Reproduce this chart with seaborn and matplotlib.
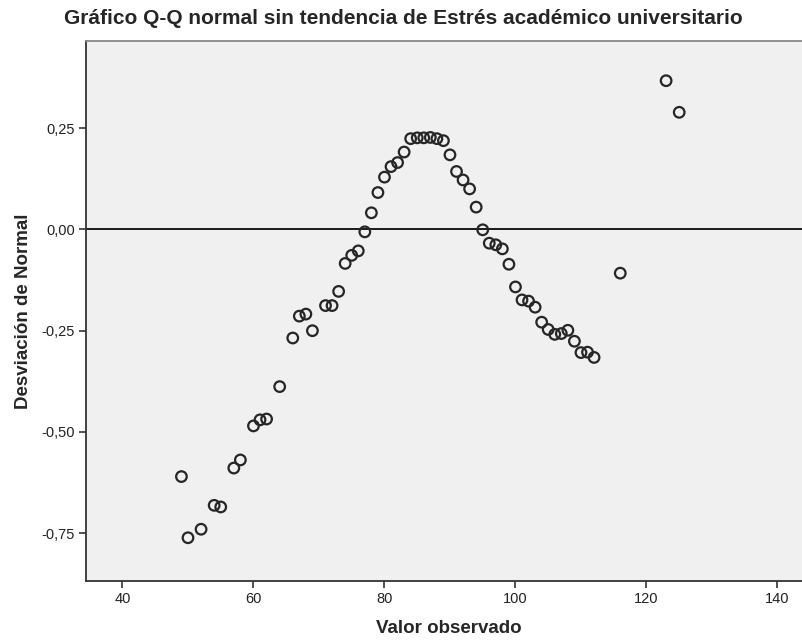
import matplotlib
matplotlib.use("Agg")
import matplotlib.pyplot as plt
import seaborn as sns
import pandas as pd

valor_observado = [49, 50, 52, 54, 55, 57, 58, 60, 61, 62, 64, 66, 67, 68, 69, 71, 72, 73,
                   74, 75, 76, 77, 78, 79, 80, 81, 82, 83, 84, 85, 86, 87, 88, 89, 90, 91,
                   92, 93, 94, 95, 96, 97, 98, 99, 100, 101, 102, 103, 104, 105, 106, 107,
                   108, 109, 110, 111, 112, 116, 123, 125]
desviacion = [-0.610, -0.761, -0.740, -0.681, -0.685, -0.589, -0.569, -0.485, -0.470, -0.468,
              -0.388, -0.268, -0.214, -0.209, -0.250, -0.188, -0.188, -0.153,
              -0.084, -0.064, -0.053, -0.006, 0.041, 0.091, 0.129, 0.155, 0.165, 0.191,
              0.224, 0.226, 0.226, 0.227, 0.224, 0.219, 0.184, 0.143, 0.122, 0.100, 0.055,
              -0.001, -0.034, -0.038, -0.048, -0.086, -0.142, -0.174, -0.177, -0.192,
              -0.229, -0.247, -0.259, -0.257, -0.249, -0.276, -0.304, -0.303, -0.316,
              -0.108, 0.367, 0.289]
x_ticks = [40, 60, 80, 100, 120, 140]
y_ticks = [-0.75, -0.50, -0.25, 0.00, 0.25]
y_tick_labels = ["-0,75", "-0,50", "-0,25", "0,00", "0,25"]

df = pd.DataFrame({"Valor observado": valor_observado, "Desviación de Normal": desviacion})

sns.set_style("white")
plt.rcParams["font.family"] = ["Liberation Sans", "DejaVu Sans"]

fig = plt.figure(figsize=(8.03, 6.41), dpi=100)
ax = fig.add_axes([86 / 803, 1 - 580.7 / 641, 1 - 86 / 803 + 0.01, (580.7 - 41) / 641])
ax.set_facecolor("#F0F0F0")

ax.axhline(0, color="#1a1a1a", lw=1.4, zorder=1)
sns.scatterplot(data=df, x="Valor observado", y="Desviación de Normal", ax=ax,
                marker="o", s=58, facecolor="none", edgecolor="#262626", linewidth=1.6,
                zorder=3)

ax.set_xlim(34.43, 143.9 + 0.01 * 803 / 6.552)
ax.set_ylim(-0.867, 0.465)
ax.set_xticks(x_ticks)
ax.set_xticklabels([str(t) for t in x_ticks])
ax.set_yticks(y_ticks)
ax.set_yticklabels(y_tick_labels)
ax.tick_params(axis="both", direction="out", length=5, width=1.2, color="#333333",
               labelsize=10.5, labelcolor="#222222", left=True, bottom=True, pad=3)

for side in ["left", "bottom"]:
    ax.spines[side].set_color("#333333")
    ax.spines[side].set_linewidth(1.3)
ax.spines["top"].set_color("#888888")
ax.spines["top"].set_linewidth(1.3)
ax.spines["right"].set_visible(False)

ax.set_xlabel("Valor observado", fontsize=13.5, fontweight="bold", labelpad=10)
ax.set_ylabel("Desviación de Normal", fontsize=13.5, fontweight="bold", labelpad=7)

fig.text(0.5025, 1 - 18 / 641, "Gráfico Q-Q normal sin tendencia de Estrés académico universitario",
         ha="center", va="center", fontsize=15, fontweight="bold")

fig.savefig("out.png", dpi=100)
